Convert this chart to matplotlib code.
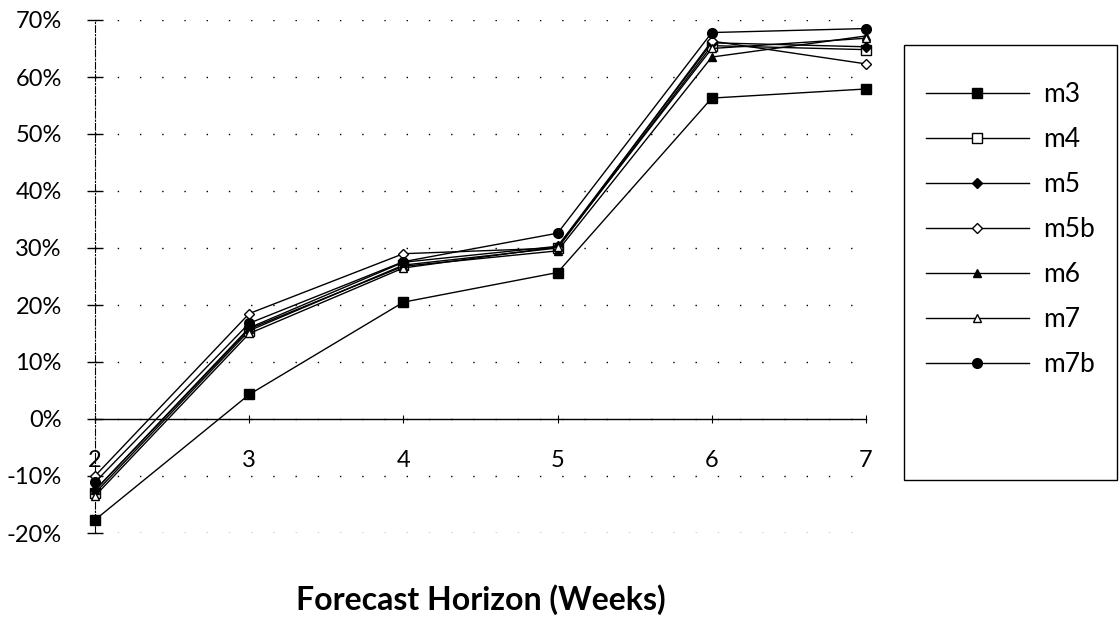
import matplotlib
matplotlib.use("Agg")
import matplotlib.pyplot as plt
from matplotlib.patches import Rectangle
from matplotlib.ticker import FuncFormatter, MultipleLocator


# -----------------------------
# Data (forecast error by horizon, %)
# -----------------------------

weeks = [2, 3, 4, 5, 6, 7]

m3 = [-17.7, 4.3, 20.5, 25.7, 56.3, 57.9]
m4 = [-13.0, 15.5, 27.0, 30.0, 65.5, 64.8]
m5 = [-12.5, 16.0, 27.5, 30.3, 66.0, 65.3]
m5b = [-10.0, 18.5, 29.0, 30.0, 66.3, 62.3]
m6 = [-12.5, 15.8, 26.8, 29.5, 63.5, 67.2]
m7 = [-13.5, 15.0, 26.5, 30.2, 65.0, 66.8]
m7b = [-11.1, 16.8, 27.6, 32.6, 67.8, 68.5]

series_names = ["m3", "m4", "m5", "m5b", "m6", "m7", "m7b"]
series_values = [m3, m4, m5, m5b, m6, m7, m7b]

# marker shape, filled?
marker_styles = [("s", True), ("s", False), ("D", True), ("D", False),
                 ("^", True), ("^", False), ("o", True)]

FONT = "Lato"


# -----------------------------
# Chart
# -----------------------------

fig = plt.figure(figsize=(11.19, 6.20), dpi=100)
ax = fig.add_axes([95 / 1119, 1 - 533 / 620, (866 - 95) / 1119, (533 - 20) / 620])

for name, values, (mk, filled) in zip(series_names, series_values, marker_styles):
    size = 7 if mk in ("s", "o") else 6
    if mk == "D":
        size = 5.5
    ax.plot(weeks, [v / 100 for v in values], color="black", linewidth=1.0,
            marker=mk, markersize=size,
            markerfacecolor="black" if filled else "white",
            markeredgecolor="black", markeredgewidth=1.0, label=name,
            clip_on=False, zorder=3)

ax.set_xlim(2, 7)
ax.set_ylim(-0.2, 0.7)

# dotted horizontal gridlines
ax.yaxis.set_major_locator(MultipleLocator(0.1))
ax.xaxis.set_major_locator(MultipleLocator(1))
ax.grid(axis="y", color="black", linestyle=(0, (1, 15)), linewidth=1.0)
ax.grid(axis="x", visible=False)

ax.spines["top"].set_visible(False)
ax.spines["right"].set_visible(False)
ax.spines["left"].set_linestyle((0, (6, 2, 1, 2)))
ax.spines["left"].set_linewidth(0.8)
ax.spines["bottom"].set_position(("data", 0))
ax.spines["bottom"].set_linewidth(1.0)

ax.yaxis.set_major_formatter(FuncFormatter(lambda v, p: f"{v * 100:.0f}%"))
ax.tick_params(axis="y", direction="inout", length=12, width=1.0, pad=18,
               labelsize=17)
ax.tick_params(axis="x", direction="inout", length=6, width=0.8, pad=19,
               labelsize=17)
for lbl in ax.get_xticklabels() + ax.get_yticklabels():
    lbl.set_fontfamily(FONT)

ax.set_xlabel("Forecast Horizon (Weeks)", fontsize=23, fontweight="bold",
              fontfamily=FONT)
ax.xaxis.set_label_coords(0.5, -0.10)

# legend box
fig.patches.append(Rectangle((904 / 1119, 1 - 480 / 620), (1117 - 904) / 1119,
                             (480 - 45) / 620, transform=fig.transFigure,
                             fill=False, edgecolor="black", linewidth=1.0))
fig.legend(loc="upper left", bbox_to_anchor=(902 / 1119, 1 - 58 / 620),
           frameon=False, handlelength=3.9, labelspacing=0.76,
           prop={"family": FONT, "size": 19}, handletextpad=0.55)

fig.savefig("out.png", dpi=100)
